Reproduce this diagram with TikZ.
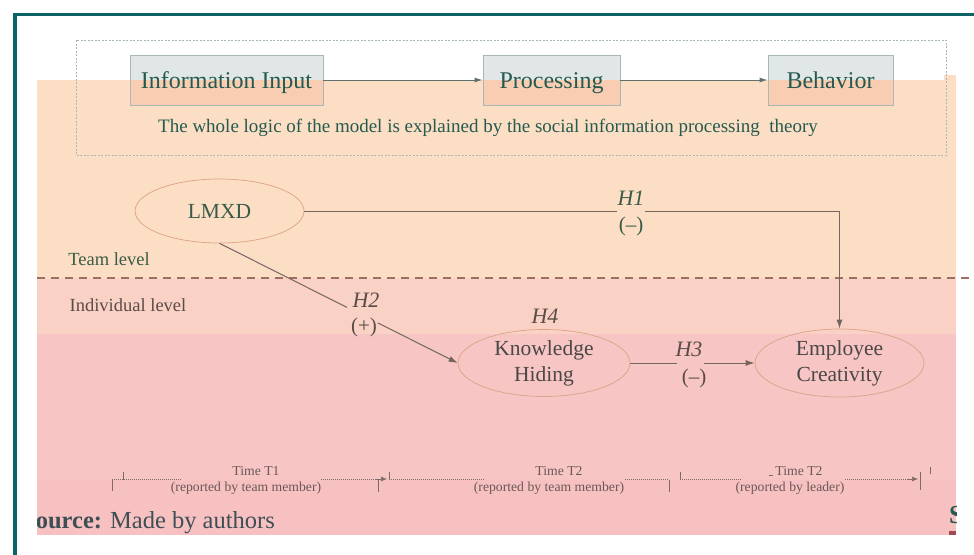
\documentclass[tikz,border=0pt]{standalone}
\usepackage{fontspec}
\setmainfont{Liberation Serif}
\usetikzlibrary{shapes.geometric,arrows.meta}
\definecolor{teal0}{HTML}{0D6266}
\definecolor{peach}{HTML}{FCDEC4}
\definecolor{indiv}{HTML}{FAD1C5}
\definecolor{lowpink}{HTML}{F7C6C4}
\definecolor{botpink}{HTML}{F8C1C1}
\definecolor{txtteal}{HTML}{245A50}
\definecolor{txtgreen}{HTML}{3A5A48}
\definecolor{txtbrown}{HTML}{5A4C47}
\definecolor{txtgray}{HTML}{4A4746}
\definecolor{boxtop}{HTML}{E1E6E6}
\definecolor{boxlow}{HTML}{F8CDB2}
\definecolor{boxedge}{HTML}{A9B6B4}
\definecolor{arrowc}{HTML}{5F716D}
\definecolor{linec}{HTML}{75655F}
\definecolor{ellc}{HTML}{DCA285}
\definecolor{sepc}{HTML}{9E6E63}
\definecolor{timec}{HTML}{7D6B6B}
\definecolor{timetxt}{HTML}{6A5858}
\definecolor{srcc}{HTML}{3E4E55}
\definecolor{redbar}{HTML}{A24A58}
\definecolor{dbox}{HTML}{A7B7B5}
\begin{document}
\begin{tikzpicture}[x=1pt,y=-1pt,
  topbox/.style={draw=boxedge, line width=0.8pt, fill=boxtop, minimum height=50pt, inner sep=0pt,
    text height=19pt, text depth=3pt,
    text=txtteal, font=\fontsize{24}{28}\selectfont,
    path picture={\fill[boxlow] (path picture bounding box.west) rectangle (path picture bounding box.south east);}},
  ell/.style={ellipse, draw=ellc, line width=0.7pt, inner sep=0pt, align=center,
    font=\fontsize{21.5}{26}\selectfont},
  hyp/.style={font=\itshape\fontsize{22}{26}\selectfont, inner sep=0pt},
  sgn/.style={font=\fontsize{21}{25}\selectfont, inner sep=0pt},
  conn/.style={linec, line width=1pt},
  tarrow/.style={arrowc, line width=1pt, -{Latex[length=8pt,width=5pt]}},
  carrow/.style={conn, -{Latex[length=9pt,width=6pt]}},
  tl/.style={timec, line width=0.6pt, dash pattern=on 1.2pt off 0.8pt},
  tickm/.style={timec, line width=0.8pt},
  tlab/.style={font=\fontsize{13.7}{16}\selectfont, text=timetxt, inner sep=0pt},
  lvl/.style={font=\fontsize{18.5}{22}\selectfont, inner sep=0pt}
]
\useasboundingbox (0,0) rectangle (974,554);
\fill[white] (0,0) rectangle (974,554);
% bands
\fill[peach] (37,80) rectangle (956,278);
\fill[peach] (944,75) rectangle (956,80);
\fill[indiv] (37,278) rectangle (956,334);
\fill[lowpink] (37,334) rectangle (956,480);
\fill[botpink] (37,480) rectangle (956,535);
% frame
\draw[teal0, line width=3.4pt] (15,560) -- (15,14.3) -- (980,14.3);
% dashed outer box
\draw[dbox, line width=0.6pt, dash pattern=on 2pt off 1.5pt] (76,40) rectangle (946,155);
% top boxes
\node[topbox, minimum width=193pt] (inp) at (226.5,80) {Information Input};
\node[topbox, minimum width=137pt] (proc) at (551.5,80) {Processing};
\node[topbox, minimum width=125pt] (beh) at (830.5,80) {Behavior};
\draw[tarrow] (inp) -- (proc);
\draw[tarrow] (proc) -- (beh);
\node[font=\fontsize{19}{23}\selectfont, text=txtteal, inner sep=0pt] (theory) at (488,128)
  {The whole logic of the model is explained by the social information processing\ \ theory};
% separator
\draw[sepc, line width=1.1pt, dash pattern=on 8pt off 6pt] (37,278) -- (974,278);
\node[lvl, text=txtgreen] (team) at (109,259) {Team level};
\node[lvl, text=txtbrown] (indl) at (128,305) {Individual level};
% ellipses
\node[ell, minimum width=169pt, minimum height=64pt, text=txtgreen] (lmxd) at (219.5,211) {LMXD};
\node[ell, minimum width=172pt, minimum height=67pt, text=txtgray] (kh) at (544,363) {Knowledge\\Hiding};
\node[ell, minimum width=169pt, minimum height=68pt, text=txtgray] (ec) at (839.5,363) {Employee\\Creativity};
% H1
\coordinate (h1a) at (617,211);
\coordinate (h1b) at (645,211);
\draw[conn] (lmxd.east) -- (h1a);
\draw[carrow] (h1b) -| (ec.north);
\node[hyp, text=txtgreen] (h1) at (631,198) {H1};
\node[sgn, text=txtgreen] (h1s) at (631,226) {(–)};
% H2
\path (lmxd.south) -- (kh.west) coordinate[pos=0.535] (h2a) coordinate[pos=0.665] (h2b);
\draw[conn] (lmxd.south) -- (h2a);
\draw[carrow] (h2b) -- (kh.west);
\node[hyp, text=txtbrown] (h2) at (366,300) {H2};
\node[sgn, text=txtbrown] (h2s) at (364,327) {(+)};
% H4
\node[hyp, text=txtbrown] (h4) at (545,316) {H4};
% H3
\coordinate (h3a) at (677,363);
\coordinate (h3b) at (704,363);
\draw[conn] (kh.east) -- (h3a);
\draw[carrow] (h3b) -- (ec.west);
\node[hyp, text=txtbrown] (h3) at (689,349) {H3};
\node[sgn, text=txtbrown] (h3s) at (694,378) {(–)};
% timeline
\draw[tickm] (112,480) -- (112,491);
\draw[tickm] (123,472) -- (123,480);
\draw[tl] (112,479) -- (181,479);
\draw[tl] (321,479) -- (381,479);
\draw[timec, line width=0.6pt, -{Latex[length=6pt,width=5pt]}] (376,479) -- (387,479);
\draw[tickm] (378,480) -- (378,492);
\draw[tickm] (389,472) -- (389,480);
\draw[tl] (389,479) -- (485,479);
\draw[tl] (625,479) -- (669,479);
\draw[tickm] (669,480) -- (669,492);
\draw[tickm] (680,472) -- (680,480);
\draw[tl] (680,479) -- (742,479);
\draw[timec, line width=0.6pt] (769,475) -- (773,475);
\draw[tl] (845,479) -- (912,479);
\draw[timec, line width=0.6pt, -{Latex[length=6pt,width=5pt]}] (908,479) -- (918,479);
\draw[tickm] (920,472) -- (920,490);
\draw[tickm] (930,467) -- (930,474);
\node[tlab] (t1) at (256,471) {Time T1};
\node[tlab] (t1r) at (246,488) {(reported by team member)};
\node[tlab] (t2) at (559,471) {Time T2};
\node[tlab] (t2r) at (549,488) {(reported by team member)};
\node[tlab] (t3) at (799,471) {Time T2};
\node[tlab] (t3r) at (790,488) {(reported by leader)};
% source
\begin{scope}
\clip (37,490) rectangle (956,554);
\node[anchor=base west, inner sep=0pt, font=\fontsize{24.5}{28}\selectfont, text=srcc] (src) at (22,528)
  {\textbf{Source:} Made by authors};
\node[anchor=base west, inner sep=0pt, font=\bfseries\fontsize{26}{30}\selectfont, text=txtteal] (s2) at (949,523) {S};
\fill[redbar] (949,531) rectangle (956,535);
\end{scope}
\end{tikzpicture}
\end{document}
